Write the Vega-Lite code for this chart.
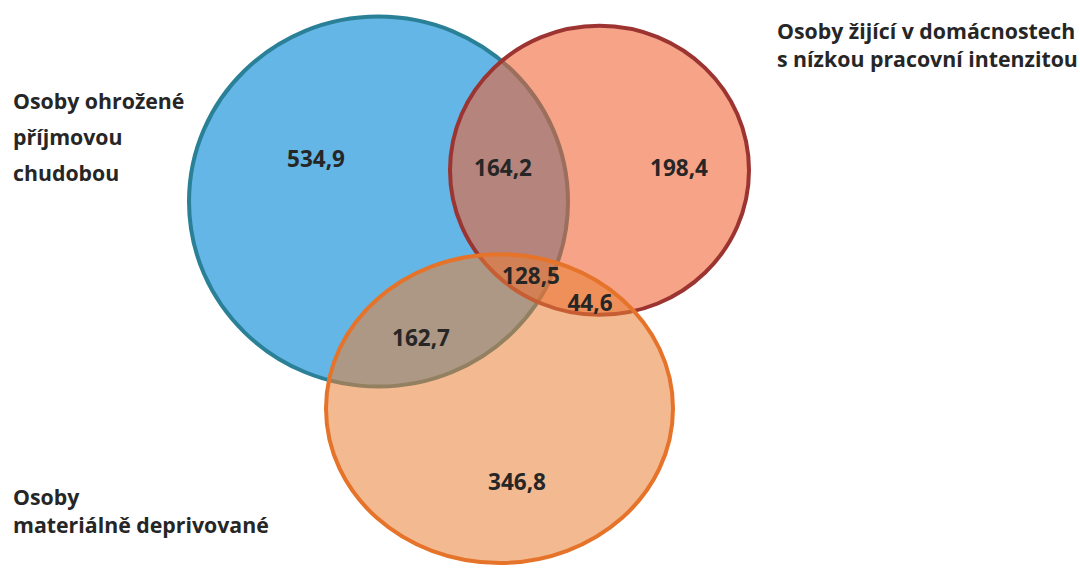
{
  "$schema": "https://vega.github.io/schema/vega-lite/v6.json",
  "width": 1080,
  "height": 570,
  "autosize": {"type": "fit", "contains": "padding"},
  "padding": 0,
  "background": "white",
  "config": {"view": {"stroke": null}},
  "datasets": {
    "sets": [
      {"set": "Osoby ohrožené příjmovou chudobou", "cx": 378.5, "cy": 203, "r": 189.5},
      {"set": "Osoby žijící v domácnostech s nízkou pracovní intenzitou", "cx": 599.5, "cy": 171.5, "r": 149.5},
      {"set": "Osoby materiálně deprivované", "cx": 499.5, "cy": 411.5, "r": 173.5}
    ],
    "regions": [
      {"value": "534,9", "cx": 316, "cy": 161},
      {"value": "164,2", "cx": 503, "cy": 170},
      {"value": "198,4", "cx": 679, "cy": 170},
      {"value": "128,5", "cx": 531, "cy": 279},
      {"value": "44,6", "cx": 590, "cy": 306},
      {"value": "162,7", "cx": 421, "cy": 341},
      {"value": "346,8", "cx": 517, "cy": 486}
    ],
    "labels": [
      {"line": "Osoby ohrožené", "lx": 13, "ly": 104},
      {"line": "příjmovou", "lx": 13, "ly": 140},
      {"line": "chudobou", "lx": 13, "ly": 176},
      {"line": "Osoby žijící v domácnostech", "lx": 777, "ly": 33},
      {"line": "s nízkou pracovní intenzitou", "lx": 777, "ly": 61},
      {"line": "Osoby", "lx": 13, "ly": 503},
      {"line": "materiálně deprivované", "lx": 13, "ly": 531}
    ]
  },
  "layer": [
    {
      "data": {"name": "sets"},
      "mark": {"type": "point", "filled": true, "opacity": 1, "strokeWidth": 4, "strokeOpacity": 1},
      "encoding": {
        "x": {"field": "cx", "type": "quantitative", "scale": {"domain": [0, 1080], "nice": false, "zero": false}, "axis": null},
        "y": {"field": "cy", "type": "quantitative", "scale": {"domain": [0, 570], "nice": false, "zero": false, "reverse": true}, "axis": null},
        "size": {"field": "r", "type": "quantitative", "scale": {"type": "pow", "exponent": 2, "domain": [0, 540], "range": [0, 1166400]}, "legend": null},
        "shape": {"field": "set", "type": "nominal", "scale": {
          "domain": ["Osoby ohrožené příjmovou chudobou", "Osoby žijící v domácnostech s nízkou pracovní intenzitou", "Osoby materiálně deprivované"],
          "range": [
            "M -1 0 C -1 -0.539 -0.5523 -0.976 0 -0.976 C 0.5523 -0.976 1 -0.539 1 0 C 1 0.539 0.5523 0.976 0 0.976 C -0.5523 0.976 -1 0.539 -1 0 Z",
            "M -1 0 C -1 -0.534 -0.5523 -0.967 0 -0.967 C 0.5523 -0.967 1 -0.534 1 0 C 1 0.534 0.5523 0.967 0 0.967 C -0.5523 0.967 -1 0.534 -1 0 Z",
            "M -1 0 C -1 -0.4915 -0.5523 -0.89 0 -0.89 C 0.5523 -0.89 1 -0.4915 1 0 C 1 0.4915 0.5523 0.89 0 0.89 C -0.5523 0.89 -1 0.4915 -1 0 Z"
          ]}, "legend": null},
        "fill": {"field": "set", "type": "nominal", "scale": {
          "domain": ["Osoby ohrožené příjmovou chudobou", "Osoby žijící v domácnostech s nízkou pracovní intenzitou", "Osoby materiálně deprivované"],
          "range": ["#63b6e5", "#f06032", "#e97f34"]}, "legend": null},
        "stroke": {"field": "set", "type": "nominal", "scale": {
          "domain": ["Osoby ohrožené příjmovou chudobou", "Osoby žijící v domácnostech s nízkou pracovní intenzitou", "Osoby materiálně deprivované"],
          "range": ["#2a8096", "#9c3431", "#e6732a"]}, "legend": null},
        "fillOpacity": {"field": "set", "type": "nominal", "scale": {
          "type": "ordinal",
          "domain": ["Osoby ohrožené příjmovou chudobou", "Osoby žijící v domácnostech s nízkou pracovní intenzitou", "Osoby materiálně deprivované"],
          "range": [1, 0.58, 0.55]}, "legend": null}
      }
    },
    {
      "data": {"name": "regions"},
      "mark": {"type": "text", "font": "Open Sans", "fontSize": 22.5, "fontWeight": "bold", "color": "#262626", "align": "center", "baseline": "middle"},
      "encoding": {
        "x": {"field": "cx", "type": "quantitative"},
        "y": {"field": "cy", "type": "quantitative"},
        "text": {"field": "value", "type": "nominal"}
      }
    },
    {
      "data": {"name": "labels"},
      "mark": {"type": "text", "font": "Open Sans", "fontSize": 21.3, "fontWeight": "bold", "color": "#262626", "align": "left", "baseline": "middle"},
      "encoding": {
        "x": {"field": "lx", "type": "quantitative"},
        "y": {"field": "ly", "type": "quantitative"},
        "text": {"field": "line", "type": "nominal"}
      }
    }
  ]
}
